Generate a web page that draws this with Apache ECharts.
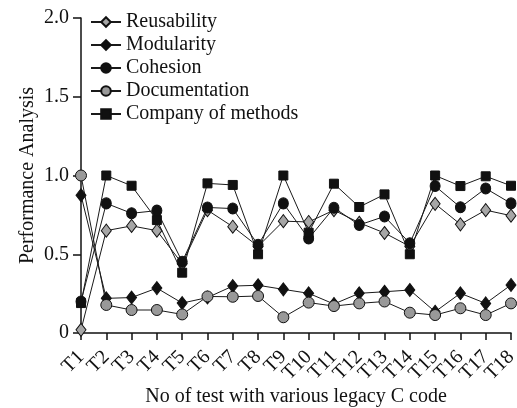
<!DOCTYPE html>
<html>
<head>
<meta charset="utf-8">
<script src="https://cdn.jsdelivr.net/npm/echarts@6/dist/echarts.min.js"></script>
<style>
html, body { margin: 0; padding: 0; background: #fff; }
#chart { width: 517px; height: 408px; }
</style>
</head>
<body>
<div id="chart"></div>
<script>
var tests = ['T1', 'T2', 'T3', 'T4', 'T5', 'T6', 'T7', 'T8', 'T9', 'T10', 'T11', 'T12', 'T13', 'T14', 'T15', 'T16', 'T17', 'T18']
var reusability = [0.02, 0.65, 0.68, 0.65, 0.44, 0.78, 0.675, 0.55, 0.71, 0.705, 0.78, 0.70, 0.635, 0.55, 0.82, 0.69, 0.78, 0.745]
var modularity = [0.875, 0.22, 0.225, 0.285, 0.19, 0.225, 0.298, 0.303, 0.277, 0.252, 0.184, 0.252, 0.262, 0.273, 0.135, 0.252, 0.188, 0.305]
var cohesion = [0.2, 0.823, 0.76, 0.777, 0.453, 0.797, 0.79, 0.56, 0.823, 0.60, 0.795, 0.686, 0.74, 0.57, 0.933, 0.798, 0.918, 0.823]
var documentation = [1.0, 0.178, 0.146, 0.146, 0.118, 0.232, 0.23, 0.235, 0.1, 0.193, 0.171, 0.188, 0.2, 0.129, 0.114, 0.157, 0.114, 0.188]
var company = [0.19, 1.0, 0.935, 0.717, 0.383, 0.95, 0.94, 0.5, 1.0, 0.637, 0.948, 0.80, 0.88, 0.50, 1.0, 0.933, 0.995, 0.935]

var font = "'Liberation Serif', 'Times New Roman', serif"
var lineColor = '#1a1a1a'

function makeSeries (name, data, symbol, size, fill) {
    return {
        name: name,
        type: 'line',
        data: data,
        symbol: symbol,
        symbolSize: size,
        showAllSymbol: true,
        lineStyle: { color: lineColor, width: 1 },
        itemStyle: { color: fill, borderColor: '#111', borderWidth: 1 },
        emphasis: { disabled: true }
    }
}

var chart = echarts.init(document.getElementById('chart'))
var option = {
    animation: false,
    backgroundColor: '#fff',
    textStyle: { fontFamily: font },
    grid: { left: 81, right: 6, top: 18, bottom: 75, containLabel: false, outerBoundsMode: 'none' },
    legend: {
        orient: 'vertical',
        left: 85,
        top: 7,
        itemWidth: 30,
        itemHeight: 12,
        itemGap: 3,
        textStyle: { fontFamily: font, fontSize: 20, color: '#111', lineHeight: 20 },
        data: ['Reusability', 'Modularity', 'Cohesion', 'Documentation', 'Company of methods']
    },
    xAxis: {
        type: 'category',
        data: tests,
        boundaryGap: false,
        name: 'No of test with various legacy C code',
        nameLocation: 'middle',
        nameGap: 54,
        nameMoveOverlap: false,
        nameTextStyle: { fontFamily: font, fontSize: 20, color: '#111' },
        axisLine: { lineStyle: { color: '#111', width: 1.5 } },
        axisTick: { show: true, alignWithLabel: true, length: 7, lineStyle: { color: '#111', width: 1.5 } },
        axisLabel: { rotate: 45, fontFamily: font, fontSize: 20, color: '#111', margin: 21, interval: 0 },
        splitLine: { show: false }
    },
    yAxis: {
        type: 'value',
        min: 0,
        max: 2,
        interval: 0.5,
        name: 'Performance Analysis',
        nameLocation: 'middle',
        nameGap: 43,
        nameMoveOverlap: false,
        nameTextStyle: { fontFamily: font, fontSize: 20, color: '#111' },
        axisLine: { show: true, lineStyle: { color: '#111', width: 1.5 } },
        axisTick: { show: true, length: 8, lineStyle: { color: '#111', width: 1.5 } },
        axisLabel: {
            fontFamily: font,
            fontSize: 20,
            color: '#111',
            margin: 12,
            formatter: function (v) { return v === 0 ? '0' : v.toFixed(1) }
        },
        splitLine: { show: false }
    },
    series: [
        makeSeries('Reusability', reusability, 'diamond', [10, 13], '#a6a6a6'),
        makeSeries('Modularity', modularity, 'diamond', [10, 13], '#111'),
        makeSeries('Cohesion', cohesion, 'circle', [10, 11], '#111'),
        makeSeries('Documentation', documentation, 'circle', [11, 11], '#999'),
        makeSeries('Company of methods', company, 'rect', [9, 9], '#111')
    ]
}
chart.setOption(option)
</script>
</body>
</html>
